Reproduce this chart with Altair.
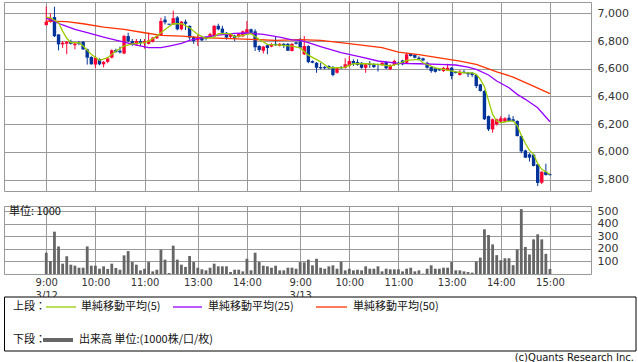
import altair as alt
import pandas as pd

# ---------------- data ----------------
opens = [6916,6940,6973,6848,6776,6780,6795,6770,6790,6795,
         6740,6685,6630,6670,6632,6650,6680,6735,6730,6710,
         6836,6800,6775,6800,6785,6780,6795,6820,6843,6955,
         6925,6920,6970,6885,6940,6910,6830,6805,6830,6830,
         6825,6835,6910,6890,6860,6830,6840,6830,6835,6860,
         6885,6870,6765,6730,6770,6760,6780,6765,6780,6780,
         6728,6790,
         6795,6704,6764,6655,6643,6612,6612,6620,6612,6571,
         6612,6607,6620,6656,6648,6643,6607,6636,6632,6632,
         6627,6648,6596,6627,6643,6660,6643,6708,6700,6680,
         6675,6643,6612,6603,6595,6583,6588,6607,6578,6555,
         6578,6571,6571,6555,6487,6439,6258,6162,6198,6218,
         6218,6246,6235,6222,6114,6010,5982,5980,5910,5777,
         5856,5838]
highs = [7050,7000,7048,6848,6800,6800,6810,6790,6800,6800,
         6745,6690,6690,6675,6655,6685,6740,6745,6760,6845,
         6860,6815,6815,6815,6815,6860,6830,6840,6968,6980,
         6925,7020,6980,6945,6955,6912,6835,6850,6835,6835,
         6860,6915,6925,6910,6865,6855,6845,6855,6875,6945,
         6890,6885,6770,6765,6775,6785,6835,6785,6785,6785,
         6785,6795,
         6822,6836,6770,6660,6648,6643,6620,6625,6620,6612,
         6620,6675,6692,6668,6668,6648,6640,6656,6640,6636,
         6650,6655,6632,6665,6650,6665,6715,6712,6705,6690,
         6680,6650,6618,6608,6600,6612,6636,6612,6582,6590,
         6590,6575,6575,6560,6490,6445,6262,6240,6240,6258,
         6250,6270,6258,6228,6120,6015,5990,5985,5915,5860,
         5914,5840]
lows = [6910,6932,6829,6733,6750,6705,6775,6740,6770,6735,
        6630,6630,6607,6625,6610,6640,6675,6715,6710,6705,
        6790,6765,6765,6765,6745,6775,6790,6815,6840,6920,
        6915,6918,6877,6877,6880,6810,6780,6765,6800,6805,
        6820,6830,6877,6845,6810,6820,6800,6825,6830,6855,
        6850,6728,6720,6710,6705,6755,6765,6760,6750,6728,
        6725,6775,
        6745,6700,6640,6640,6571,6596,6596,6596,6545,6565,
        6598,6600,6615,6620,6622,6600,6571,6607,6605,6580,
        6622,6598,6590,6620,6625,6625,6640,6688,6675,6660,
        6655,6600,6571,6572,6585,6578,6585,6523,6565,6550,
        6565,6540,6540,6460,6435,6230,6150,6138,6190,6212,
        6212,6218,6218,6110,5990,5955,5930,5895,5753,5767,
        5830,5828]
closes = [6940,6968,6835,6776,6788,6795,6780,6782,6780,6740,
          6680,6632,6680,6632,6650,6675,6733,6722,6718,6836,
          6800,6775,6800,6785,6800,6805,6825,6835,6945,6935,
          6918,6965,6885,6940,6925,6825,6800,6820,6805,6815,
          6850,6910,6885,6860,6825,6850,6820,6850,6870,6885,
          6860,6755,6735,6760,6750,6775,6770,6780,6765,6730,
          6780,6780,
          6752,6764,6648,6643,6607,6603,6603,6603,6555,6607,
          6603,6632,6656,6636,6627,6607,6632,6627,6612,6627,
          6643,6603,6627,6656,6632,6632,6704,6692,6680,6670,
          6660,6607,6583,6578,6588,6607,6607,6547,6569,6578,
          6569,6560,6555,6475,6439,6235,6162,6235,6235,6242,
          6242,6222,6222,6114,6003,5958,5958,5898,5775,5856,
          5832,5832]
volumes = [169,103,336,219,82,140,74,66,50,50,
           219,66,66,42,61,40,82,48,34,148,
           182,95,74,29,42,95,21,34,193,114,
           8,225,114,74,56,143,95,50,37,29,
           50,82,61,61,61,16,34,34,21,121,
           29,169,95,66,61,50,66,29,29,50,
           50,42,
           95,93,114,69,121,50,42,61,69,42,
           98,29,42,29,34,29,61,42,42,61,
           21,42,37,37,37,21,42,50,21,29,
           3,42,69,42,42,50,50,95,29,29,
           21,16,11,100,130,355,310,235,150,110,
           125,125,70,195,515,215,155,275,315,275,
           160,40]
slots = list(range(len(opens)))  # 5-minute bar index over the two sessions

ma5_slot = [0,1,3,4,5,6,8,9,11,13,15,17,19,21,24,25,27,29,31,33,35,37,39,41,42,45,46,49,50,52,
            54,57,60,62,64,67,69,72,73,75,78,81,84,86,88,91,92,95,97,100,102,104,105,106,107,108,
            109,110,111,113,114,115,116,117,118,119,120,121,123]
ma5_val = [6973,6968,6932,6872,6820,6788,6788,6764,6704,6661,6680,6728,6764,6780,6788,6800,6836,6884,
           6925,6925,6896,6848,6820,6829,6853,6853,6829,6848,6853,6812,6776,6771,6764,6750,6698,6650,
           6607,6607,6612,6636,6636,6632,6620,6636,6661,6668,6643,6607,6596,6578,6571,6570,6560,6523,
           6470,6370,6270,6222,6210,6222,6222,6190,6120,6060,6010,5982,5915,5874,5838]
ma25_slot = [0,4,7,10,14,18,22,25,28,30,33,35,38,42,46,49,53,57,60,62,64,67,72,77,81,86,91,96,100,
             103,105,108,110,113,115,117,120,123]
ma25_val = [6965,6916,6884,6860,6829,6800,6771,6752,6752,6764,6783,6805,6824,6843,6856,6858,6848,6829,
            6809,6805,6788,6760,6716,6684,6656,6639,6636,6632,6627,6612,6596,6555,6511,6463,6415,6379,
            6318,6217]
ma50_slot = [0,5,9,14,19,24,28,33,38,45,50,56,62,67,74,82,86,91,96,101,105,110,114,118,123]
ma50_val = [6944,6940,6925,6901,6884,6860,6841,6836,6824,6817,6812,6805,6810,6805,6781,6752,6720,
            6702,6678,6655,6632,6578,6540,6487,6420]

tick_slots = [0, 12, 24, 37, 49, 62, 74, 86, 99, 111, 123]
tick_labels = [["9:00", "3/12"], "10:00", "11:00", "13:00", "14:00", ["9:00", "3/13"],
               "10:00", "11:00", "13:00", "14:00", "15:00"]
price_ticks = [5800, 6000, 6200, 6400, 6600, 6800, 7000]
vol_ticks = [100, 200, 300, 400, 500]

legend_names = ["単純移動平均(5)", "単純移動平均(25)", "単純移動平均(50)"]
vol_legend = "出来高 単位:(1000株/口/枚)"
unit_text = "単位: 1000"
copyright_text = "(c)Quants Research Inc."

# ---------------- styles ----------------
UP, DOWN = "#ff0033", "#003399"
C5, C25, C50 = "#99cc00", "#9900ff", "#ff3300"
GRID = "#999999"
VOLC = "#666666"
JP = "Noto Sans CJK JP"

candles = pd.DataFrame({"slot": slots, "open": opens, "high": highs, "low": lows, "close": closes})
candles["dir"] = ["up" if c >= o else "down" for o, c in zip(opens, closes)]
vol = pd.DataFrame({"slot": slots, "vol": volumes})

xs = alt.Scale(domain=[-9.1, 131.8], nice=False, zero=False)
ys = alt.Scale(domain=[5717, 7082], nice=False, zero=False)
col = alt.Color("dir:N", scale=alt.Scale(domain=["up", "down"], range=[UP, DOWN]), legend=None)

x_axis_p = alt.Axis(values=tick_slots, labels=False, ticks=False, domain=False, grid=True, title=None)
y_axis_p = alt.Axis(values=price_ticks, format=",d", orient="right", title=None, domain=False,
                    ticks=False, labelPadding=6, grid=True, labelOverlap=False, labelFlush=False,
                    labelSeparation=0)


def px(f="slot"):
    return alt.X(f + ":Q", scale=xs, axis=x_axis_p)


def py(f):
    return alt.Y(f + ":Q", scale=ys, axis=y_axis_p)


base = alt.Chart(candles)
wick = base.mark_rule(strokeWidth=1).encode(x=px(), y=py("low"), y2="high:Q", color=col)
body = base.mark_bar(size=3.4).encode(x=px(), y=py("open"), y2="close:Q", color=col)


def ma_layer(sl, vals, color):
    df = pd.DataFrame({"slot": sl, "val": vals})
    return alt.Chart(df).mark_line(color=color, strokeWidth=1.3).encode(x=px(), y=py("val"))


price = alt.layer(wick, body, ma_layer(ma50_slot, ma50_val, C50),
                  ma_layer(ma25_slot, ma25_val, C25),
                  ma_layer(ma5_slot, ma5_val, C5)).properties(width=587, height=189)


def lab(v):
    if isinstance(v, list):
        return "[" + ",".join("'%s'" % s for s in v) + "]"
    return "'%s'" % v


expr = "''"
for s, l in reversed(list(zip(tick_slots, tick_labels))):
    expr = "datum.value == %d ? %s : %s" % (s, lab(l), expr)

vbars = alt.Chart(vol).mark_bar(size=2.8, color=VOLC).encode(
    x=alt.X("slot:Q", scale=xs, axis=alt.Axis(values=tick_slots, labelExpr=expr, grid=True, ticks=False,
                                               domain=False, title=None, labelPadding=3,
                                               labelLineHeight=13, labelFontSize=10, labelFlush=False,
                                               labelOverlap=False)),
    y=alt.Y("vol:Q", scale=alt.Scale(domain=[0, 540], nice=False),
            axis=alt.Axis(values=vol_ticks, orient="right", title=None, domain=False, ticks=False,
                          labelPadding=6, grid=True, labelOverlap=False, labelFlush=False)))

one = pd.DataFrame({"k": [0]})


def ltext(t, x, y, align="left", size=11, font=JP):
    return alt.Chart(one).mark_text(align=align, baseline="middle", font=font, fontSize=size,
                                    color="#111").encode(text=alt.value(t), x=alt.value(x), y=alt.value(y))


def lline(x0, x1, y, color, w):
    return alt.Chart(one).mark_rule(color=color, strokeWidth=w).encode(
        x=alt.value(x0), x2=alt.value(x1), y=alt.value(y))


# legend box sits below the volume panel (offsets relative to the volume panel's top-left)
TOP = 91
box = alt.Chart(one).mark_rect(fill="white", stroke="#000000", strokeWidth=1).encode(
    x=alt.value(0.5), x2=alt.value(632), y=alt.value(TOP), y2=alt.value(TOP + 54))

volume = alt.layer(
    vbars,
    ltext(unit_text, 5, 6),
    box,
    ltext("上段：", 9, TOP + 10),
    lline(42, 72, TOP + 10, C5, 1.3), ltext(legend_names[0], 77, TOP + 10),
    lline(169, 198, TOP + 10, C25, 1.3), ltext(legend_names[1], 204, TOP + 10),
    lline(312, 343, TOP + 10, C50, 1.3), ltext(legend_names[2], 349, TOP + 10),
    ltext("下段：", 9, TOP + 43),
    lline(39, 69, TOP + 43, VOLC, 4), ltext(vol_legend, 75, TOP + 43),
    ltext(copyright_text, 630, TOP + 61, align="right", size=10, font="DejaVu Sans"),
).properties(width=587, height=68)

chart = alt.vconcat(price, volume, spacing=12).properties(
    padding={"left": 3, "top": 1, "right": 0, "bottom": 0}, background="white"
).configure_view(stroke=GRID).configure_axis(
    gridColor=GRID, gridWidth=1, labelFont="DejaVu Sans", labelFontSize=11, labelColor="#333",
    labelOverlap=False
)

chart.save("out.html", embed_options={"renderer": "svg", "actions": False})
